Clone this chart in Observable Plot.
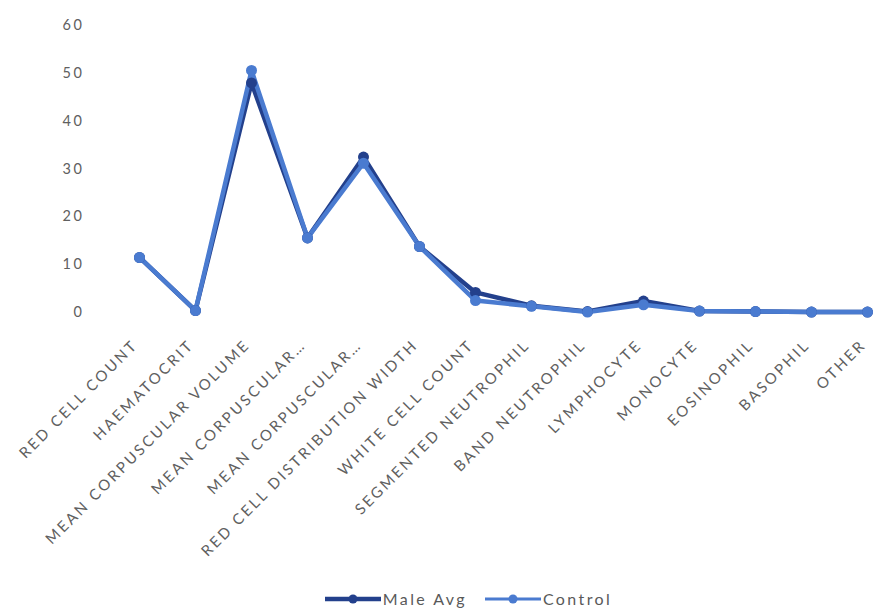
<!DOCTYPE html>
<html>
<head>
<meta charset="utf-8">
<script src="https://cdn.jsdelivr.net/npm/d3@7"></script>
<script src="https://cdn.jsdelivr.net/npm/@observablehq/plot@0.6"></script>
<style>
  html, body { margin: 0; padding: 0; background: #fff; }
  #chart { width: 877px; overflow: hidden; }
  #chart svg text { letter-spacing: 2.6px; }
  .legend { display: flex; justify-content: center; gap: 18px; font-family: Lato, "Open Sans", sans-serif; font-size: 16px; letter-spacing: 2.4px; color: #595959; margin-top: 14px; padding-left: 60px; }
  .legend span { display: inline-flex; align-items: center; gap: 2px; }
</style>
</head>
<body>
<div id="chart"></div>
<script>
// Haematology parameters shown along the x axis
const categories = [
  "RED CELL COUNT", "HAEMATOCRIT", "MEAN CORPUSCULAR VOLUME", "MEAN CORPUSCULAR…",
  "MEAN CORPUSCULAR…", "RED CELL DISTRIBUTION WIDTH", "WHITE CELL COUNT",
  "SEGMENTED NEUTROPHIL", "BAND NEUTROPHIL", "LYMPHOCYTE", "MONOCYTE",
  "EOSINOPHIL", "BASOPHIL", "OTHER"
];
const maleAvg = [11.5, 0.4, 48, 15.6, 32.5, 13.8, 4.2, 1.4, 0.2, 2.4, 0.3, 0.2, 0.1, 0.1];
const control = [11.5, 0.4, 50.6, 15.6, 31.2, 13.8, 2.5, 1.3, 0.1, 1.6, 0.3, 0.2, 0.1, 0.1];
const yTicks = [0, 10, 20, 30, 40, 50, 60];

const seriesNames = ["Male Avg", "Control"];
const seriesColors = ["#23408c", "#4a7bd0"];

// index-based keys keep the two "MEAN CORPUSCULAR…" entries distinct
const idx = categories.map((_, i) => i);
const rows = [];
[maleAvg, control].forEach((vals, s) => {
  vals.forEach((v, i) => rows.push({series: seriesNames[s], i, value: v}));
});

const H = 575;
const chart = Plot.plot({
  width: 877,
  height: H,
  marginLeft: 134,
  marginRight: 5,
  marginTop: 25,
  marginBottom: H - 312,
  style: {fontFamily: "Lato, 'Open Sans', sans-serif", fontSize: "15px", color: "#606060", background: "#fff"},
  x: {type: "point", domain: idx, padding: 0, label: null},
  y: {domain: [0, 60], label: null},
  color: {domain: seriesNames, range: seriesColors},
  marks: [
    Plot.axisY({ticks: yTicks, tickSize: 0, tickPadding: 50, fontSize: 14.5, label: null}),
    Plot.axisX({
      ticks: idx,
      tickFormat: i => categories[i],
      tickSize: 0,
      tickRotate: -45,
      tickPadding: 24,
      dx: -4,
      dy: 6,
      fontSize: 15,
      label: null
    }),
    Plot.line(rows, {x: "i", y: "value", z: "series", stroke: "series", strokeWidth: 4.5, strokeLinejoin: "round"}),
    Plot.dot(rows, {x: "i", y: "value", fill: "series", r: 5.5, symbol: "circle"})
  ]
});
document.getElementById("chart").appendChild(chart);

// legend below the plot
const legend = document.createElement("div");
legend.className = "legend";
seriesNames.forEach((name, s) => {
  const item = document.createElement("span");
  item.innerHTML = `<svg width="56" height="10"><line x1="0" y1="5" x2="56" y2="5" stroke="${seriesColors[s]}" stroke-width="${s === 0 ? 4.5 : 3}"/><circle cx="28" cy="5" r="4.5" fill="${seriesColors[s]}"/></svg>${name}`;
  legend.appendChild(item);
});
document.getElementById("chart").after(legend);
</script>
</body>
</html>
